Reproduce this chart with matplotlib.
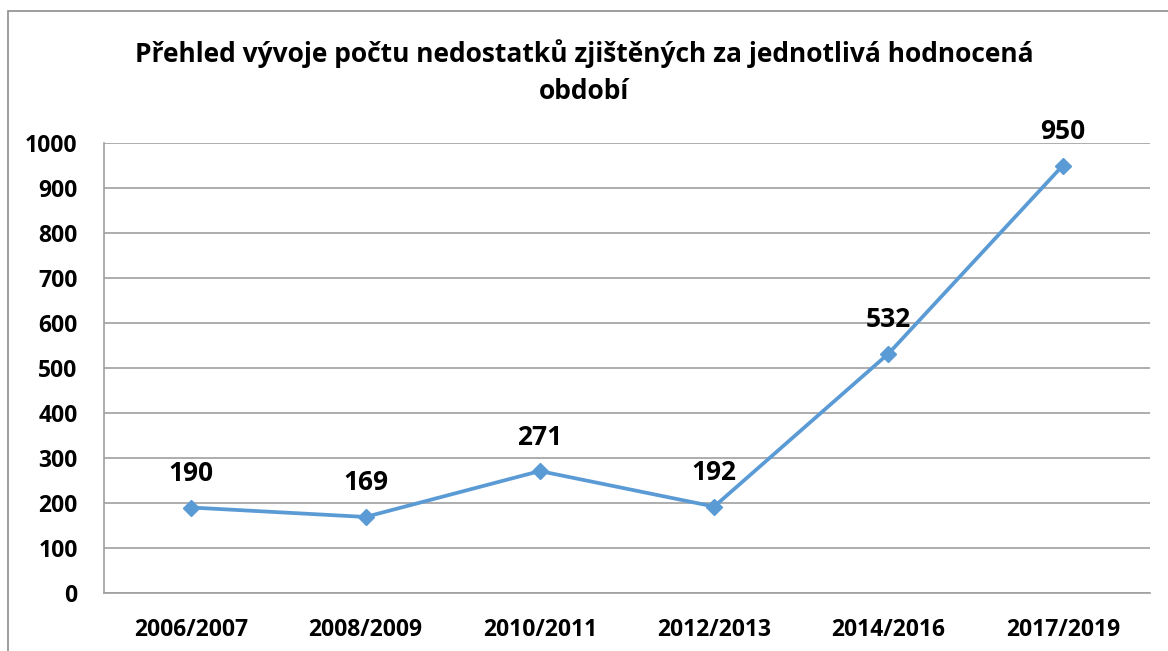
import matplotlib.pyplot as plt
from matplotlib.patches import Rectangle

obdobi = ['2006/2007', '2008/2009', '2010/2011', '2012/2013', '2014/2016', '2017/2019']
nedostatky = [190, 169, 271, 192, 532, 950]
y_ticks = list(range(0, 1001, 100))

plt.rcParams['font.family'] = ['Open Sans', 'DejaVu Sans']
plt.rcParams['font.weight'] = 'bold'

fig = plt.figure(figsize=(11.68, 6.51), dpi=100)
ax = fig.add_axes([104 / 1168, 1 - 593 / 651, 1046 / 1168, 450 / 651])

# ramecek grafu (pravy a dolni okraj jsou mimo obrazek)
fig.patches.append(Rectangle((8 / 1168, -0.1), 1.2, 1 - 11 / 651 + 0.1,
                             transform=fig.transFigure, fill=False,
                             edgecolor='#8c8c8c', linewidth=1.2))

x = list(range(len(obdobi)))
ax.plot(x, nedostatky, color='#5b9bd5', linewidth=2.7, marker='D',
        markersize=8.5, zorder=3)
for xi, v in zip(x, nedostatky):
    ax.annotate(str(v), (xi, v), xytext=(0, 24.5), textcoords='offset points',
                ha='center', va='center', fontsize=19, fontweight='bold')

ax.set_xlim(-0.5, len(obdobi) - 0.5)
ax.set_ylim(0, 1000)
ax.set_yticks(y_ticks)
ax.set_xticks(x)
ax.set_xticklabels(obdobi)
ax.tick_params(axis='both', length=0, labelsize=16.5)
ax.tick_params(axis='y', pad=19)
ax.tick_params(axis='x', pad=18)
ax.grid(axis='y', color='#a0a0a0', linewidth=1.2)
ax.set_axisbelow(True)
for s in ['top', 'right']:
    ax.spines[s].set_visible(False)
ax.spines['left'].set_color('#a0a0a0')
ax.spines['bottom'].set_color('#a0a0a0')
ax.spines['left'].set_linewidth(1.2)
ax.spines['bottom'].set_linewidth(1.2)

fig.text(0.5, 1 - 72 / 651,
         'Přehled vývoje počtu nedostatků zjištěných za jednotlivá hodnocená\nobdobí',
         ha='center', va='center', fontsize=19, fontweight='bold',
         linespacing=1.5)

fig.savefig('out.png', dpi=100)
